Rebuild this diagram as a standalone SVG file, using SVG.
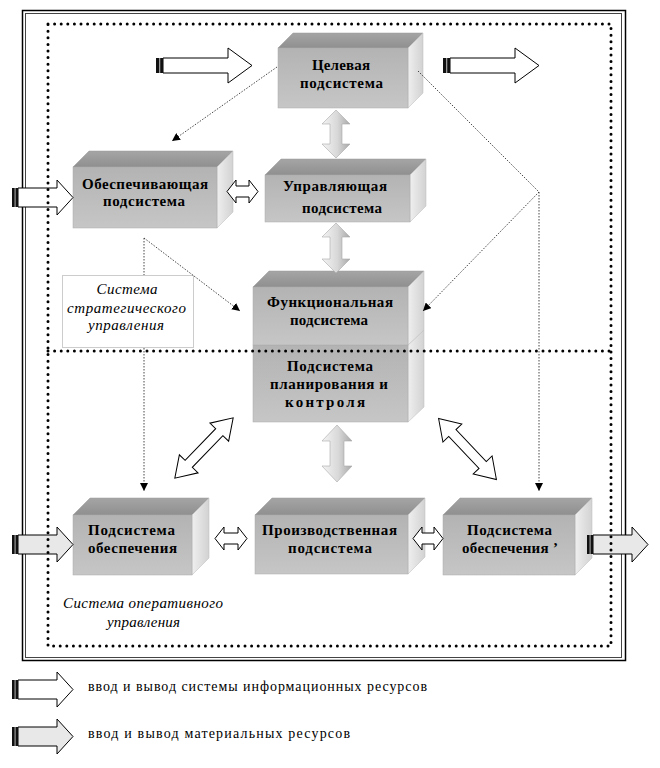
<svg xmlns="http://www.w3.org/2000/svg" xmlns:xlink="http://www.w3.org/1999/xlink" width="660" height="768" viewBox="0 0 660 768">
<style>
.t{font-weight:bold;font-size:15px;text-anchor:middle;fill:#000}
.it{font-style:italic;font-size:15px;text-anchor:middle;fill:#000}
.lg{font-size:14px;fill:#000}
.front{fill:url(#gFront);stroke:#aaa;stroke-width:0.5}
.top{fill:url(#gTop);stroke:#999;stroke-width:0.5}
.side{fill:url(#gSide);stroke:#bbb;stroke-width:0.5}
.dash{fill:none;stroke:#333;stroke-width:0.9;stroke-dasharray:1.5 1.5}
.wa{fill:#fff;stroke:#000;stroke-width:1}
.ga{fill:url(#gArrow);stroke:#aaa;stroke-width:0.6}
.frame{fill:none;stroke:#000;stroke-width:3;stroke-linecap:round;stroke-dasharray:0 6.6}
</style>
<defs>
<linearGradient id="gFront" x1="0" y1="0" x2="0" y2="1"><stop offset="0" stop-color="#b3b3b3"/><stop offset="1" stop-color="#c6c6c6"/></linearGradient>
<linearGradient id="gTop" x1="0" y1="0" x2="0" y2="1"><stop offset="0" stop-color="#a5a5a5"/><stop offset="1" stop-color="#8f8f8f"/></linearGradient>
<linearGradient id="gSide" x1="0" y1="0" x2="1" y2="0"><stop offset="0" stop-color="#efefef"/><stop offset="1" stop-color="#d2d2d2"/></linearGradient>
<linearGradient id="gArrow" x1="0" y1="0" x2="1" y2="0"><stop offset="0" stop-color="#f4f4f4"/><stop offset="0.55" stop-color="#d8d8d8"/><stop offset="1" stop-color="#a8a8a8"/></linearGradient>
<marker id="ah" viewBox="0 0 10 10" refX="10" refY="5" markerWidth="8" markerHeight="8" markerUnits="userSpaceOnUse" orient="auto"><path d="M0,0 L10,5 L0,10 z" fill="#000"/></marker>
<g id="infoShort">
<polygon points="6,8 45,8 45,0 61,17.5 45,35 45,27 6,27" fill="#fff" stroke="#000" stroke-width="1"/>
<rect x="0" y="8" width="6" height="19" fill="#111"/><rect x="2.5" y="8" width="1.2" height="19" fill="#999"/>
</g>
<g id="matShort">
<polygon points="6,8 45,8 45,0 61,17.5 45,35 45,27 6,27" fill="#e8e8e8" stroke="#000" stroke-width="1"/>
<rect x="0" y="8" width="6" height="19" fill="#111"/><rect x="2.5" y="8" width="1.2" height="19" fill="#999"/>
</g>
<g id="infoLong">
<polygon points="7,10 72,10 72,0 96,17.5 72,35 72,25 7,25" fill="#fff" stroke="#000" stroke-width="1"/>
<rect x="0" y="10" width="7" height="15" fill="#111"/><rect x="3" y="10" width="1.3" height="15" fill="#999"/>
</g>
</defs>
<rect width="660" height="768" fill="#fff"/>

<rect x="22.5" y="10.5" width="603" height="650" fill="none" stroke="#000" stroke-width="1.5"/>
<rect x="25.5" y="13.5" width="596" height="644" fill="none" stroke="#444" stroke-width="1"/>

<g id="strategic-label">
<rect x="62.5" y="275.5" width="131" height="72" fill="#fff" stroke="#ccc" stroke-width="1"/>
</g>

<g font-family="Liberation Serif, Times New Roman, DejaVu Serif, serif">
<g id="node-target">
<polygon class="top" points="278,48 293,33 423,33 408,48"/>
<polygon class="side" points="408,48 423,33 423,93 408,108"/>
<rect class="front" x="278" y="48" width="130" height="60"/>
<text class="t" x="341" y="70" textLength="58" lengthAdjust="spacing">Целевая</text>
<text class="t" x="341.5" y="88" textLength="83" lengthAdjust="spacing">подсистема</text>
</g>
<g id="node-support">
<polygon class="top" points="73,167 89,151 233,151 217,167"/>
<polygon class="side" points="217,167 233,151 233,212 217,228"/>
<rect class="front" x="73" y="167" width="144" height="61"/>
<text class="t" x="145" y="189" textLength="126" lengthAdjust="spacing">Обеспечивающая</text>
<text class="t" x="144" y="206" textLength="82" lengthAdjust="spacing">подсистема</text>
</g>
<g id="node-control">
<polygon class="top" points="265,175 281,159 426,159 410,175"/>
<polygon class="side" points="410,175 426,159 426,206 410,222"/>
<rect class="front" x="265" y="175" width="145" height="47"/>
<text class="t" x="335" y="191" textLength="104" lengthAdjust="spacing">Управляющая</text>
<text class="t" x="342" y="213" textLength="80" lengthAdjust="spacing">подсистема</text>
</g>
<g id="node-planning">
<polygon class="side" points="408,345 424,330 424,407 408,422"/>
<rect class="front" x="253" y="345" width="155" height="77"/>
<text class="t" x="330" y="371" textLength="86" lengthAdjust="spacing">Подсистема</text>
<text class="t" x="329" y="389" textLength="118" lengthAdjust="spacing">планирования и</text>
<text class="t" x="325" y="407" textLength="80" lengthAdjust="spacing">контроля</text>
</g>
<g id="node-functional">
<polygon class="top" points="253,287 269,271 424,271 408,287"/>
<polygon class="side" points="408,287 424,271 424,330 408,345"/>
<rect class="front" x="253" y="287" width="155" height="58"/>
<text class="t" x="330" y="307" textLength="126" lengthAdjust="spacing">Функциональная</text>
<text class="t" x="329" y="325" textLength="78" lengthAdjust="spacing">подсистема</text>
</g>
<g id="node-supply">
<polygon class="top" points="73,515 90,498 209,498 192,515"/>
<polygon class="side" points="192,515 209,498 209,558 192,575"/>
<rect class="front" x="73" y="515" width="119" height="60"/>
<text class="t" x="131.5" y="535" textLength="87" lengthAdjust="spacing">Подсистема</text>
<text class="t" x="132.5" y="553" textLength="89" lengthAdjust="spacing">обеспечения</text>
</g>
<g id="node-production">
<polygon class="top" points="255,515 272,498 425,498 408,515"/>
<polygon class="side" points="408,515 425,498 425,557 408,574"/>
<rect class="front" x="255" y="515" width="153" height="59"/>
<text class="t" x="329.5" y="535" textLength="135" lengthAdjust="spacing">Производственная</text>
<text class="t" x="330" y="553" textLength="84" lengthAdjust="spacing">подсистема</text>
</g>
<g id="node-supply2">
<polygon class="top" points="443,515 460,498 592,498 575,515"/>
<polygon class="side" points="575,515 592,498 592,558 575,575"/>
<rect class="front" x="443" y="515" width="132" height="60"/>
<text class="t" x="509.5" y="535" textLength="85" lengthAdjust="spacing">Подсистема</text>
<text class="t" x="510" y="553" textLength="96" lengthAdjust="spacing">обеспечения ’</text>
</g>
</g>

<g id="connectors">
<line class="dash" x1="277" y1="67" x2="172" y2="141" marker-end="url(#ah)"/>
<line class="dash" x1="418" y1="71" x2="539" y2="192"/>
<line class="dash" x1="539" y1="192" x2="423" y2="311" marker-end="url(#ah)"/>
<line class="dash" x1="539" y1="192" x2="539" y2="491" marker-end="url(#ah)"/>
<line class="dash" x1="144" y1="238" x2="240" y2="311" marker-end="url(#ah)"/>
<line class="dash" x1="144" y1="238" x2="144" y2="275"/>
<line class="dash" x1="144" y1="348" x2="144" y2="491" marker-end="url(#ah)"/>
<polygon class="wa" points="227,191.5 236,180 236,186 249,186 249,180 258,191.5 249,203 249,197 236,197 236,203"/>
<polygon class="wa" points="215,538.5 224,527 224,533 238,533 238,527 247,538.5 238,550 238,544 224,544 224,550"/>
<polygon class="wa" points="413,538.5 422,527 422,533 434,533 434,527 443,538.5 434,550 434,544 422,544 422,550"/>
<polygon class="wa" transform="translate(204,448) rotate(-46)" points="-42,0 -22,-13 -22,-5 22,-5 22,-13 42,0 22,13 22,5 -22,5 -22,13"/>
<polygon class="wa" transform="translate(467.5,449) rotate(46.5)" points="-42,0 -22,-13 -22,-5 22,-5 22,-13 42,0 22,13 22,5 -22,5 -22,13"/>
<polygon class="ga" points="336,110 350,124 342,124 342,144 350,144 336,158 322,144 330,144 330,124 322,124"/>
<polygon class="ga" points="336,223 350,237 342,237 342,259 350,259 336,273 322,259 330,259 330,237 322,237"/>
<polygon class="ga" points="337,425 352,441 344,441 344,466 352,466 337,482 322,466 330,466 330,441 322,441"/>
<use xlink:href="#infoLong" transform="translate(156,48)"/>
<use xlink:href="#infoLong" transform="translate(443,48)"/>
<use xlink:href="#infoShort" transform="translate(12,180)"/>
<use xlink:href="#matShort" transform="translate(12,527)"/>
<use xlink:href="#matShort" transform="translate(587,527)"/>
</g>

<g id="frames">
<rect class="frame" x="48" y="24" width="563" height="622"/>
<line class="frame" x1="48" y1="351" x2="611" y2="351"/>
</g>

<g id="labels" font-family="Liberation Serif, Times New Roman, DejaVu Serif, serif">
<text class="it" x="127" y="294" textLength="61" lengthAdjust="spacing">Система</text>
<text class="it" x="126.5" y="313" textLength="119" lengthAdjust="spacing">стратегического</text>
<text class="it" x="126" y="330" textLength="76" lengthAdjust="spacing">управления</text>
<text class="it" x="143" y="608" textLength="160" lengthAdjust="spacing">Система оперативного</text>
<text class="it" x="143.5" y="627" textLength="73" lengthAdjust="spacing">управления</text>
</g>

<g id="legend" font-family="Liberation Serif, Times New Roman, DejaVu Serif, serif">
<use xlink:href="#infoShort" transform="translate(12,672)"/>
<text class="lg" x="88" y="691" textLength="339" lengthAdjust="spacing">ввод и вывод системы информационных ресурсов</text>
<use xlink:href="#matShort" transform="translate(12,719)"/>
<text class="lg" x="88" y="738" textLength="262" lengthAdjust="spacing">ввод и вывод материальных ресурсов</text>
</g>
</svg>
